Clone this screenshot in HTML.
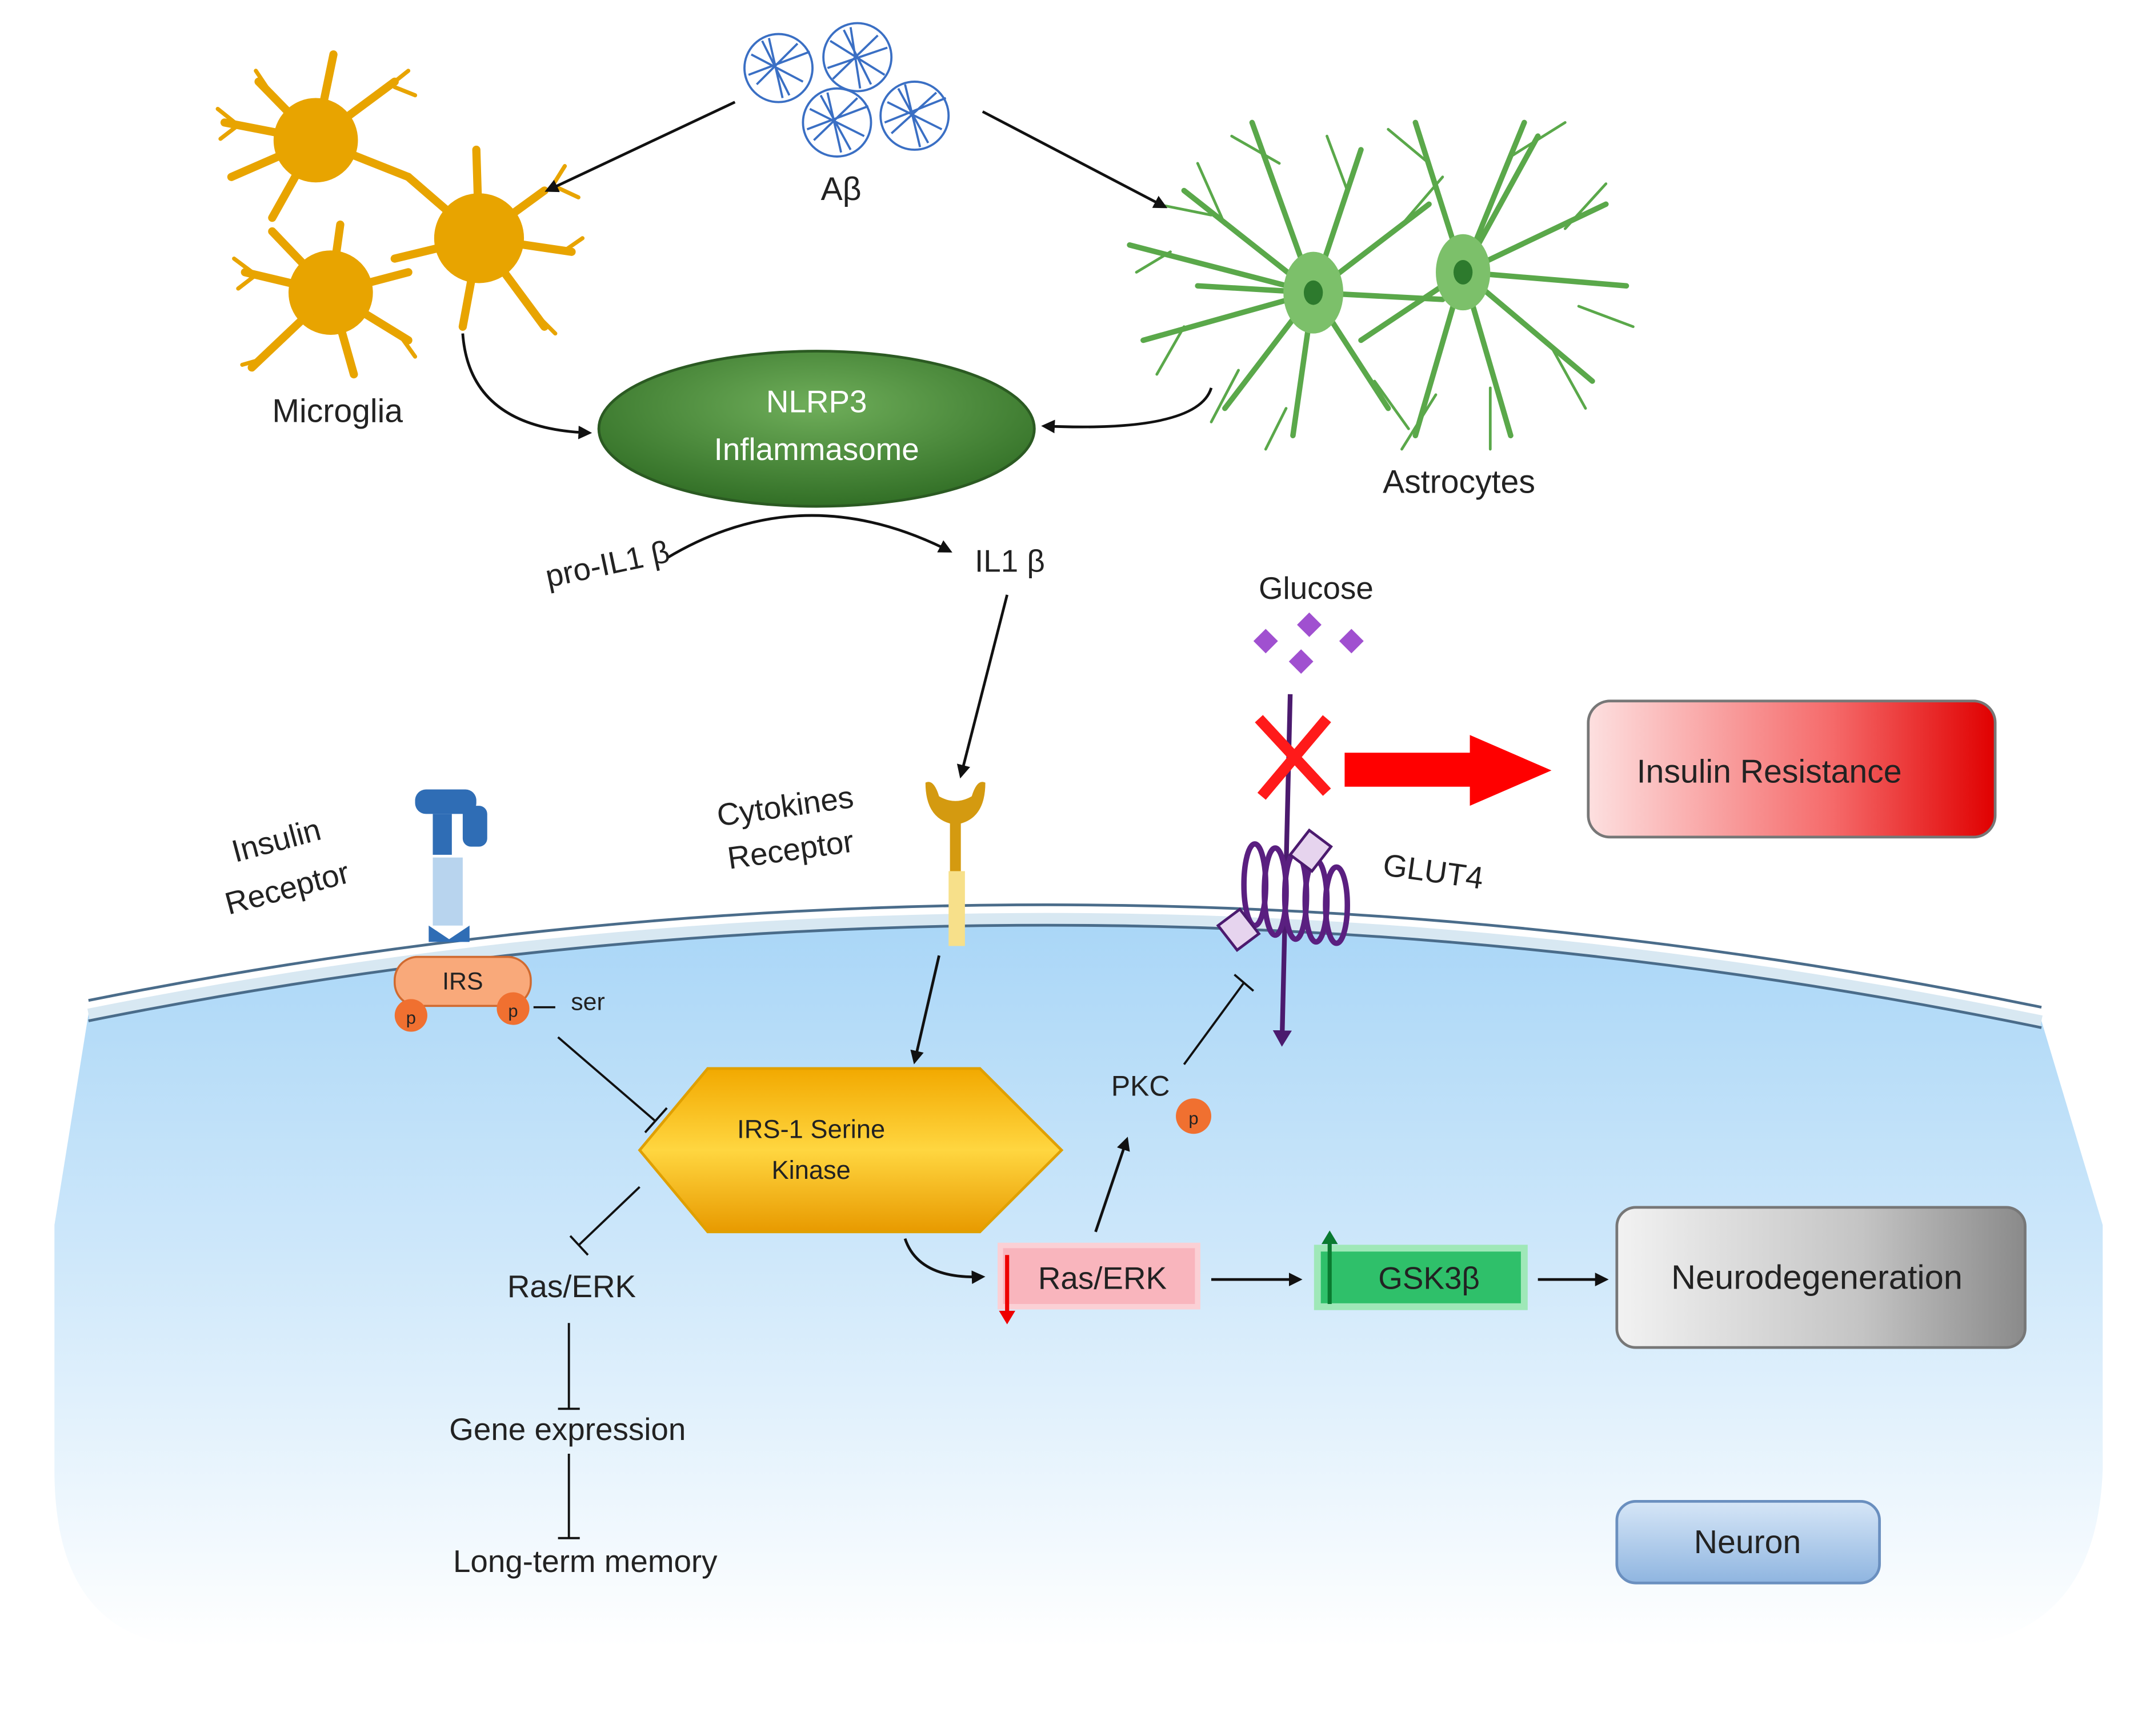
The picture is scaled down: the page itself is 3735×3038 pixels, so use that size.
<!DOCTYPE html>
<html><head><meta charset="utf-8"><style>
html,body{margin:0;padding:0;background:#fff}
svg{display:block}
text{font-family:"Liberation Sans",sans-serif;fill:#222}
</style></head><body>
<svg width="3735" height="3038" viewBox="0 0 1568 1275.4" preserveAspectRatio="none" xmlns="http://www.w3.org/2000/svg">
<defs>
<linearGradient id="cell" x1="0" y1="0" x2="0" y2="1">
<stop offset="0" stop-color="#a9d6f7"/><stop offset="0.45" stop-color="#cde7fa"/><stop offset="1" stop-color="#ffffff"/></linearGradient>
<radialGradient id="nl" cx="0.5" cy="0.35" r="0.7"><stop offset="0" stop-color="#6fae5a"/><stop offset="1" stop-color="#2d6a22"/></radialGradient>
<linearGradient id="hex" x1="0" y1="0" x2="0" y2="1"><stop offset="0" stop-color="#f2a900"/><stop offset="0.5" stop-color="#ffd640"/><stop offset="1" stop-color="#e89a00"/></linearGradient>
<linearGradient id="ir" x1="0" y1="0" x2="1" y2="0"><stop offset="0" stop-color="#fde0e0"/><stop offset="0.6" stop-color="#f56a6a"/><stop offset="1" stop-color="#e00000"/></linearGradient>
<linearGradient id="nd" x1="0" y1="0" x2="1" y2="0"><stop offset="0" stop-color="#f2f2f2"/><stop offset="0.6" stop-color="#c4c4c4"/><stop offset="1" stop-color="#8a8a8a"/></linearGradient>
<linearGradient id="nu" x1="0" y1="0" x2="0" y2="1"><stop offset="0" stop-color="#d6e6f7"/><stop offset="1" stop-color="#8fb5e0"/></linearGradient>
<marker id="ah" markerWidth="10" markerHeight="10" refX="8" refY="5" orient="auto" markerUnits="userSpaceOnUse"><path d="M0,0 L10,5 L0,10 z" fill="#111"/></marker>
<marker id="pa" markerWidth="12" markerHeight="14" refX="8" refY="7" orient="auto" markerUnits="userSpaceOnUse"><path d="M0,0 L12,7 L0,14 z" fill="#4b1a6e"/></marker>
</defs>

<path d="M65,745 Q780,600 1500,750 L1545,900 L1545,1080 Q1540,1210 1420,1210 L150,1210 Q40,1210 40,1080 L40,900 Z" fill="url(#cell)"/>
<path d="M65,735 Q780,592 1500,740" fill="none" stroke="#4a6c8a" stroke-width="2"/>
<path d="M65,745 Q780,602 1500,750" fill="none" stroke="#d8e8f2" stroke-width="8"/>
<path d="M65,750 Q780,607 1500,755" fill="none" stroke="#4a6c8a" stroke-width="2"/>

<g fill="#e8a400" stroke="#e8a400" stroke-width="6" stroke-linecap="round">
<circle cx="232" cy="103" r="28"/><path d="M232,103 L165,90 M232,103 L190,60 M232,103 L245,40 M232,103 L290,60 M232,103 L300,130 M232,103 L200,160 M232,103 L170,130" fill="none"/>
<circle cx="352" cy="175" r="30"/><path d="M352,175 L300,130 M352,175 L350,110 M352,175 L400,140 M352,175 L420,185 M352,175 L400,240 M352,175 L340,240 M352,175 L290,190" fill="none"/>
<circle cx="243" cy="215" r="28"/><path d="M243,215 L180,200 M243,215 L200,170 M243,215 L250,165 M243,215 L300,200 M243,215 L300,250 M243,215 L260,275 M243,215 L185,270" fill="none"/>
</g>
<g stroke="#e8a400" stroke-width="3" stroke-linecap="round" fill="none">
<path d="M175,92 L160,80 M175,92 L162,102 M200,70 L188,52 M285,64 L300,52 M290,64 L305,70 M405,138 L415,122 M410,138 L425,145 M415,184 L428,175 M395,232 L408,245 M188,202 L172,190 M188,202 L175,212 M295,248 L305,262 M192,264 L178,268"/>
</g>
<g fill="none" stroke="#3a6fc4" stroke-width="1.6">
<circle cx="572" cy="50" r="25"/><path d="M552,40 L590,60 M560,30 L580,70 M550,55 L595,38 M556,62 L586,32 M565,28 L575,72"/>
<circle cx="630" cy="42" r="25"/><path d="M610,30 L650,55 M620,22 L640,62 M608,50 L652,35 M612,58 L645,26 M625,20 L632,65"/>
<circle cx="615" cy="90" r="25"/><path d="M595,80 L635,100 M603,70 L625,110 M593,95 L638,78 M598,103 L630,72 M608,68 L618,112"/>
<circle cx="672" cy="85" r="25"/><path d="M652,75 L692,95 M660,65 L682,105 M650,90 L695,72 M655,98 L688,68 M665,62 L676,108"/>
</g>
<text x="618" y="147" font-size="24" text-anchor="middle">Aβ</text>
<g stroke="#5aa84a" stroke-width="4" fill="none" stroke-linecap="round">
<path d="M965,215 L870,140 M965,215 L830,180 M965,215 L840,250 M965,215 L900,300 M965,215 L950,320 M965,215 L1000,110 M965,215 L920,90 M965,215 L1050,150 M965,215 L1060,220 M965,215 L1020,300 M965,215 L880,210"/>
<path d="M1075,200 L1040,90 M1075,200 L1120,90 M1075,200 L1180,150 M1075,200 L1195,210 M1075,200 L1170,280 M1075,200 L1110,320 M1075,200 L1040,320 M1075,200 L1000,250 M1075,200 L1130,100"/>
</g>
<g stroke="#5aa84a" stroke-width="2" fill="none" stroke-linecap="round">
<path d="M900,165 L880,120 M890,158 L850,150 M860,185 L835,200 M870,240 L850,275 M910,272 L890,310 M945,300 L930,330 M990,140 L975,100 M940,120 L905,100 M1030,165 L1060,130 M1010,280 L1035,315 M1050,120 L1020,95 M1150,168 L1180,135 M1160,225 L1200,240 M1140,255 L1165,300 M1095,285 L1095,330 M1055,290 L1030,330 M1110,115 L1150,90"/>
</g>
<ellipse cx="965" cy="215" rx="22" ry="30" fill="#7cc06a"/><ellipse cx="1075" cy="200" rx="20" ry="28" fill="#7cc06a"/>
<ellipse cx="965" cy="215" rx="7" ry="9" fill="#2d7a2d"/><ellipse cx="1075" cy="200" rx="7" ry="9" fill="#2d7a2d"/>

<text x="248" y="310" font-size="24" text-anchor="middle">Microglia</text>
<text x="1072" y="362" font-size="24" text-anchor="middle">Astrocytes</text>

<g stroke="#111" stroke-width="2" fill="none" marker-end="url(#ah)">
<path d="M540,75 L402,140"/><path d="M722,82 L856,152"/>
<path d="M340,245 Q345,315 433,318"/><path d="M890,285 Q880,318 767,313"/>
<path d="M490,410 Q590,350 698,405"/>
<path d="M740,437 L706,570"/>
<path d="M690,702 L672,780"/>
<path d="M665,910 Q675,940 722,938"/>
<path d="M805,905 L828,837"/>
<path d="M890,940 L955,940"/>
<path d="M1130,940 L1180,940"/>
</g>

<ellipse cx="600" cy="315" rx="160" ry="57" fill="url(#nl)" stroke="#2b5a22" stroke-width="2"/>
<text x="600" y="303" font-size="23" text-anchor="middle" style="fill:#fff">NLRP3</text>
<text x="600" y="338" font-size="23" text-anchor="middle" style="fill:#fff">Inflammasome</text>

<text x="448" y="422" font-size="23" text-anchor="middle" transform="rotate(-12 448 422)">pro-IL1 β</text>
<text x="742" y="420" font-size="23" text-anchor="middle">IL1 β</text>

<text x="967" y="440" font-size="23" text-anchor="middle">Glucose</text>
<g fill="#a050d0"><path d="M930,462 l9,9 -9,9 -9,-9z"/><path d="M962,450 l9,9 -9,9 -9,-9z"/><path d="M993,462 l9,9 -9,9 -9,-9z"/><path d="M956,477 l9,9 -9,9 -9,-9z"/></g>
<path d="M948,510 L942,765" stroke="#4b1a6e" stroke-width="3.5" marker-end="url(#pa)"/>
<g stroke="#ff1a1a" stroke-width="8"><path d="M925,528 L975,582 M975,528 L927,585"/></g>
<path d="M988,553 L1080,553 L1080,540 L1140,566 L1080,592 L1080,578 L988,578 Z" fill="#f00"/>
<rect x="1167" y="515" width="299" height="100" rx="16" fill="url(#ir)" stroke="#777" stroke-width="2"/>
<text x="1300" y="575" font-size="24" text-anchor="middle">Insulin Resistance</text>
<g fill="none" stroke="#5a1f80" stroke-width="4">
<ellipse cx="922" cy="650" rx="8" ry="30"/><ellipse cx="937" cy="655" rx="8" ry="32"/><ellipse cx="952" cy="658" rx="8" ry="32"/><ellipse cx="967" cy="662" rx="8" ry="30"/><ellipse cx="982" cy="665" rx="8" ry="28"/>
</g>
<path d="M962,610 l16,12 -14,18 -16,-12z" fill="#e6d4ee" stroke="#4b1a6e" stroke-width="2"/>
<path d="M895,680 l16,-12 14,18 -16,12z" fill="#e6d4ee" stroke="#4b1a6e" stroke-width="2"/>
<text x="1052" y="648" font-size="23" text-anchor="middle" transform="rotate(8 1052 648)">GLUT4</text>

<text x="205" y="625" font-size="23" text-anchor="middle" transform="rotate(-15 205 625)">Insulin</text>
<text x="213" y="660" font-size="23" text-anchor="middle" transform="rotate(-15 213 660)">Receptor</text>
<g fill="#2f6db5"><rect x="305" y="580" width="45" height="18" rx="8"/><rect x="340" y="592" width="18" height="30" rx="6"/><rect x="318" y="598" width="14" height="30"/></g>
<rect x="318" y="630" width="22" height="50" fill="#b8d4ee"/>
<path d="M315,680 l15,10 15,-10 0,12 -30,0z" fill="#2f6db5"/>
<rect x="290" y="703" width="100" height="36" rx="17" fill="#f9a97a" stroke="#d06a30" stroke-width="1.5"/>
<text x="340" y="727" font-size="18" text-anchor="middle">IRS</text>
<circle cx="302" cy="746" r="12" fill="#f07030"/><text x="302" y="752" font-size="13" text-anchor="middle">p</text>
<circle cx="377" cy="741" r="12" fill="#f07030"/><text x="377" y="747" font-size="13" text-anchor="middle">p</text>
<path d="M392,740 L408,740" stroke="#111" stroke-width="1.5"/>
<text x="432" y="742" font-size="18" text-anchor="middle">ser</text>

<text x="578" y="600" font-size="23" text-anchor="middle" transform="rotate(-8 578 600)">Cytokines</text>
<text x="582" y="632" font-size="23" text-anchor="middle" transform="rotate(-8 582 632)">Receptor</text>
<path d="M680,575 Q680,600 698,605 L698,690 L706,690 L706,605 Q724,600 724,575 Q718,572 714,585 Q702,592 690,585 Q686,572 680,575Z" fill="#d49a10"/>
<rect x="697" y="640" width="12" height="55" fill="#f7e08a"/>

<g stroke="#111" stroke-width="1.6" fill="none">
<path d="M410,762 L482,824 M474,832 L490,814"/>
<path d="M470,872 L425,915 M419,908 L432,922"/>
<path d="M418,972 L418,1035 M410,1035 L426,1035"/>
<path d="M418,1068 L418,1130 M410,1130 L426,1130"/>
<path d="M870,782 L914,722 M907,716 L921,728"/>
</g>

<path d="M470,845 L520,785 L720,785 L780,845 L720,905 L520,905 Z" fill="url(#hex)" stroke="#e0a000" stroke-width="2"/>
<text x="596" y="836" font-size="19" text-anchor="middle">IRS-1 Serine</text>
<text x="596" y="866" font-size="19" text-anchor="middle">Kinase</text>

<text x="420" y="953" font-size="23" text-anchor="middle">Ras/ERK</text>
<text x="417" y="1058" font-size="23" text-anchor="middle">Gene expression</text>
<text x="430" y="1155" font-size="23" text-anchor="middle">Long-term memory</text>

<text x="838" y="805" font-size="21" text-anchor="middle">PKC</text>
<circle cx="877" cy="820" r="13" fill="#f07030"/><text x="877" y="826" font-size="13" text-anchor="middle">p</text>

<rect x="735" y="915" width="145" height="45" fill="#f9b5bd" stroke="#fbd0d5" stroke-width="4"/>
<path d="M740,922 L740,965" stroke="#e00" stroke-width="3"/><path d="M734,963 L740,973 L746,963Z" fill="#e00"/>
<text x="810" y="947" font-size="23" text-anchor="middle">Ras/ERK</text>
<rect x="968" y="917" width="152" height="43" fill="#2fc06a" stroke="#9fe8b8" stroke-width="5"/>
<path d="M977,958 L977,912" stroke="#0a7a30" stroke-width="3"/><path d="M971,914 L977,904 L983,914Z" fill="#0a7a30"/>
<text x="1050" y="947" font-size="23" text-anchor="middle">GSK3β</text>

<rect x="1188" y="887" width="300" height="103" rx="14" fill="url(#nd)" stroke="#777" stroke-width="2"/>
<text x="1335" y="947" font-size="25" text-anchor="middle">Neurodegeneration</text>
<rect x="1188" y="1103" width="193" height="60" rx="14" fill="url(#nu)" stroke="#6a8fbf" stroke-width="2"/>
<text x="1284" y="1141" font-size="24" text-anchor="middle">Neuron</text>
</svg>
</body></html>
